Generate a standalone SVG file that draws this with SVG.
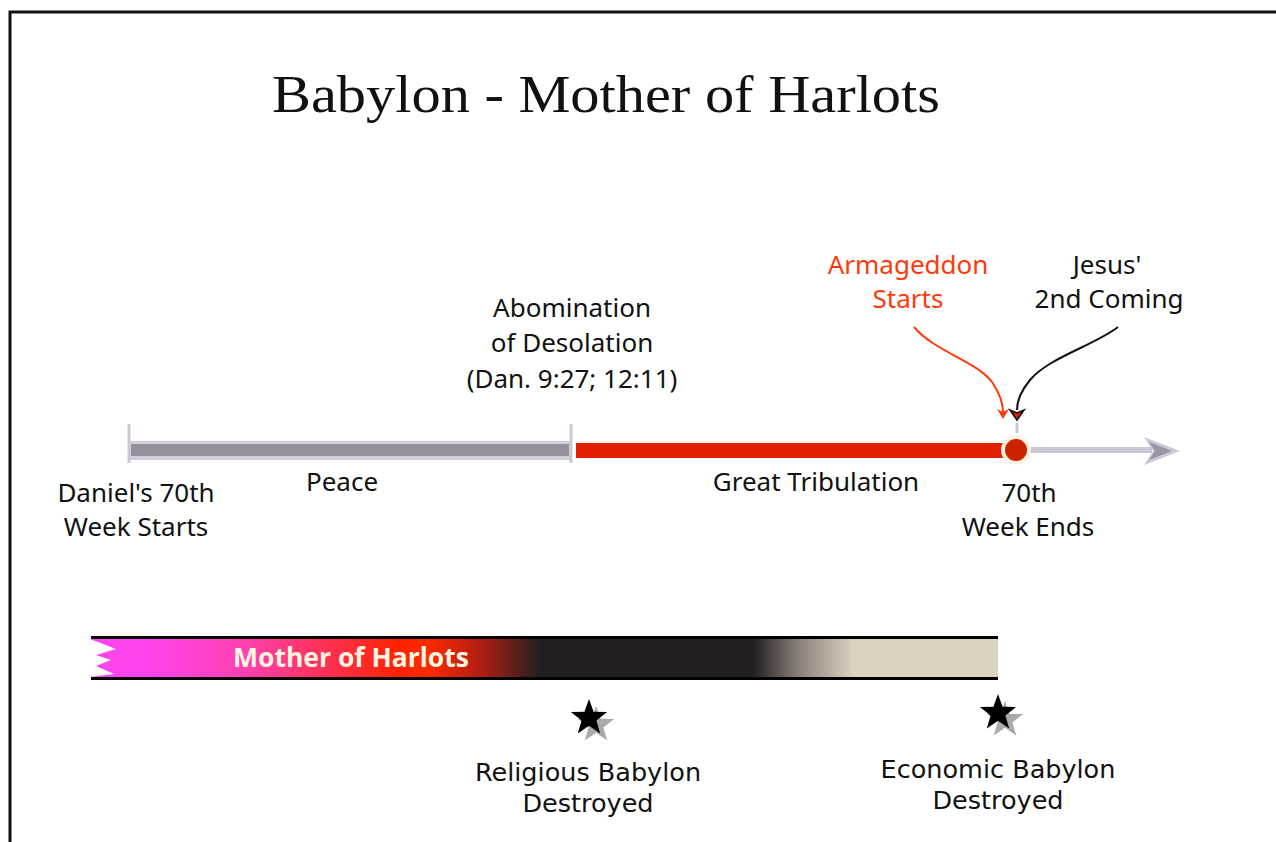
<svg xmlns="http://www.w3.org/2000/svg" width="1276" height="842" viewBox="0 0 1276 842">
<style>
.lbl{font-family:"Noto Sans","Open Sans",sans-serif;font-size:26px;fill:#111;text-anchor:middle}
.red{fill:#ff3a0a}
.gothic{font-family:"DejaVu Sans","Noto Sans",sans-serif;font-size:25.5px;fill:#111;text-anchor:middle}
.title{font-family:"Liberation Serif","DejaVu Serif",serif;font-size:52px;fill:#111;text-anchor:middle}
</style>
<defs>
<linearGradient id="harlot" x1="91" y1="0" x2="998" y2="0" gradientUnits="userSpaceOnUse">
<stop offset="0" stop-color="#ff44ee"/>
<stop offset="0.06" stop-color="#ff44ee"/>
<stop offset="0.17" stop-color="#ff40b0"/>
<stop offset="0.34" stop-color="#ff2200"/>
<stop offset="0.37" stop-color="#ff2a00"/>
<stop offset="0.43" stop-color="#b01e14"/>
<stop offset="0.495" stop-color="#231f20"/>
<stop offset="0.73" stop-color="#231f20"/>
<stop offset="0.78" stop-color="#8a8078"/>
<stop offset="0.84" stop-color="#dcd0c0"/>
<stop offset="1" stop-color="#dcd0c0"/>
</linearGradient>
<path id="star" d="M0,-19 L4.6,-6.3 L18.1,-5.9 L7.4,2.4 L11.2,15.4 L0,7.8 L-11.2,15.4 L-7.4,2.4 L-18.1,-5.9 L-4.6,-6.3 Z"/>
</defs>

<path d="M10,842 V12 H1276" fill="none" stroke="#111" stroke-width="3"/>

<g id="title"><text class="title" x="606" y="112" textLength="668" lengthAdjust="spacingAndGlyphs">Babylon - Mother of Harlots</text></g>

<g id="timeline">
<rect x="128" y="441" width="444" height="19" fill="#d2cddb"/>
<rect x="131" y="444" width="438" height="12" fill="#96919d"/>
<line x1="129" y1="424" x2="129" y2="463" stroke="#ccc6d6" stroke-width="3"/>
<line x1="571" y1="424" x2="571" y2="463" stroke="#ccc6d6" stroke-width="3"/>
<rect x="576" y="443" width="430" height="15" fill="#e02000"/>
<line x1="1028" y1="450" x2="1152" y2="450" stroke="#ccc6d6" stroke-width="6"/>
<path d="M1144,437 L1180,451 L1144,465 L1153,451 Z" fill="#ccc6d6"/>
<path d="M1149,442 L1172,451 L1149,460 L1155,451 Z" fill="#9a94a4"/>
<line x1="1017" y1="423" x2="1017" y2="433" stroke="#ccc6d6" stroke-width="3"/>
</g>

<g id="node-end"><circle cx="1016" cy="450" r="15" fill="#fdf3e0"/><circle cx="1016" cy="450" r="11" fill="#cc2200"/></g>

<g id="connectors">
<path d="M914,327 C935,352 975,360 992,382 C1000,394 1003,404 1003,412" fill="none" stroke="#ff3a0a" stroke-width="2"/>
<path d="M997,409 L1003,419 L1009,409 L1003,412 Z" fill="#ff3a0a"/>
<path d="M1118,327 C1095,345 1048,358 1030,380 C1020,392 1017,402 1017,410" fill="none" stroke="#111" stroke-width="2"/>
<path d="M1010,410 L1017,420 L1024,410 L1017,413 Z" fill="#e02000" stroke="#111" stroke-width="1.6"/>
</g>

<g id="label-armageddon"><text class="lbl red" x="908" y="274">Armageddon</text><text class="lbl red" x="908" y="308">Starts</text></g>
<g id="label-jesus"><text class="lbl" x="1107" y="274">Jesus'</text><text class="lbl" x="1109" y="308">2nd Coming</text></g>
<g id="label-abomination"><text class="lbl" x="572" y="317">Abomination</text><text class="lbl" x="572" y="352">of Desolation</text><text class="lbl" x="572" y="388">(Dan. 9:27; 12:11)</text></g>
<g id="label-start"><text class="lbl" x="136" y="502">Daniel's 70th</text><text class="lbl" x="136" y="536">Week Starts</text></g>
<g id="label-peace"><text class="lbl" x="342" y="491">Peace</text></g>
<g id="label-trib"><text class="lbl" x="816" y="491">Great Tribulation</text></g>
<g id="label-end"><text class="lbl" x="1029" y="502">70th</text><text class="lbl" x="1028" y="536">Week Ends</text></g>

<g id="harlot-bar">
<rect x="91" y="639" width="907" height="39" fill="url(#harlot)"/>
<line x1="91" y1="637.5" x2="998" y2="637.5" stroke="#000" stroke-width="3"/>
<line x1="91" y1="678.5" x2="998" y2="678.5" stroke="#000" stroke-width="3"/>
<path d="M90,639 L116,649 L96,655 L111,660 L96,666 L114,674 L90,677 Z" fill="#fff"/>
<text x="351" y="667" font-family="'Open Sans','Noto Sans',sans-serif" font-weight="bold" font-size="26.5" fill="#fff5e0" text-anchor="middle">Mother of Harlots</text>
</g>

<g id="star-religious">
<use href="#star" x="596" y="725" fill="#aaa"/>
<use href="#star" x="589" y="718" fill="#000"/>
<text class="gothic" x="588" y="781">Religious Babylon</text><text class="gothic" x="588" y="812">Destroyed</text>
</g>
<g id="star-economic">
<use href="#star" x="1005" y="720" fill="#aaa"/>
<use href="#star" x="998" y="713" fill="#000"/>
<text class="gothic" x="998" y="778">Economic Babylon</text><text class="gothic" x="998" y="809">Destroyed</text>
</g>
</svg>
